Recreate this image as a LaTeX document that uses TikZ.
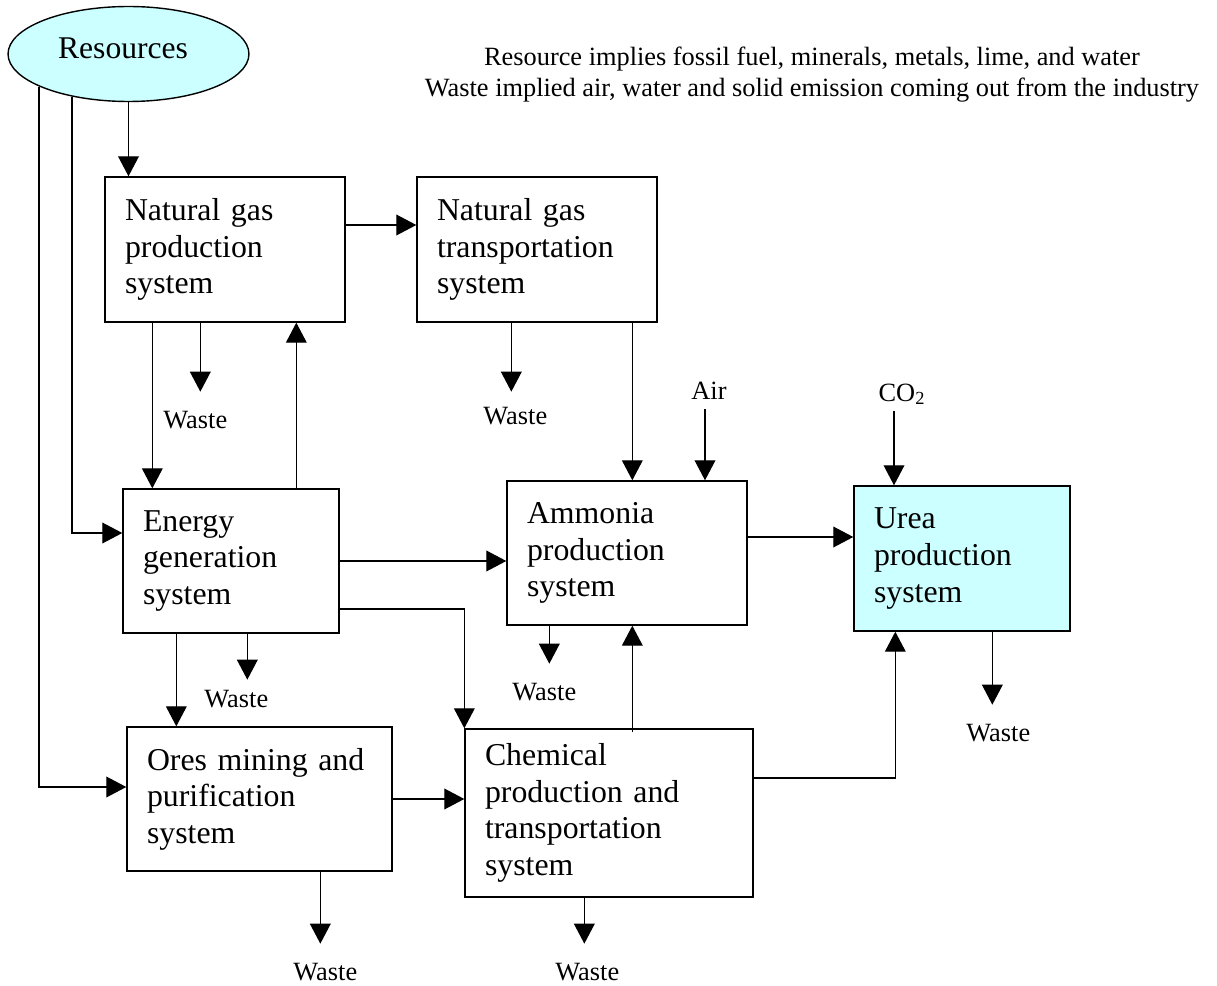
\documentclass[tikz,border=0pt]{standalone}
\usepackage{fontspec}
\setmainfont{Liberation Serif}
\usetikzlibrary{shapes.geometric,arrows.meta,calc}
\definecolor{lightcyan}{HTML}{CCFFFF}
\tikzset{
  sysbox/.style={draw, line width=0.8pt, rectangle, align=left, inner xsep=0.4cm, inner ysep=0pt,
    font=\fontsize{18.1}{20.8}\selectfont},
  lbl/.style={inner sep=0pt, font=\fontsize{15}{17.6}\selectfont},
  arr/.style={line width=0.75pt, -{Triangle[length=11.4pt,width=11.8pt]}},
}
\begin{document}
\begin{tikzpicture}[x=0.02cm, y=-0.02cm]
\useasboundingbox (0,0) rectangle (1217,986);

% resources ellipse
\node[ellipse, draw, line width=0.8pt, fill=lightcyan, minimum width=4.82cm, minimum height=1.9cm,
  inner sep=0pt, font=\fontsize{18}{21}\selectfont, text depth=6.2pt] (res) at (128.5,54) {\hspace*{-6.2pt}Resources};

% note
\node[lbl, align=center] (note) at (812,75) {Resource implies fossil fuel, minerals, metals, lime, and water\\Waste implied air, water and solid emission coming out from the industry};

% system boxes
\node[sysbox, minimum width=4.8cm, minimum height=2.9cm, text width=4.0cm] (ngp) at (225,249.5) {Natural gas\\production\\system};
\node[sysbox, minimum width=4.8cm, minimum height=2.9cm, text width=4.0cm] (ngt) at (537,249.5) {Natural gas\\transportation\\system};
\node[sysbox, minimum width=4.32cm, minimum height=2.88cm, text width=3.52cm] (en) at (231,561) {Energy\\generation\\system};
\node[sysbox, minimum width=4.8cm, minimum height=2.88cm, text width=4.0cm] (am) at (627,553) {Ammonia\\production\\system};
\node[sysbox, fill=lightcyan, minimum width=4.32cm, minimum height=2.9cm, text width=3.52cm] (ur) at (962,558.5) {Urea\\production\\system};
\node[sysbox, minimum width=5.3cm, minimum height=2.88cm, text width=4.5cm] (or) at (259.5,799) {Ores mining and\\purification\\system};
\node[sysbox, minimum width=5.76cm, minimum height=3.36cm, text width=4.96cm] (ch) at (609,813) {Chemical\\production and\\transportation\\system};

% input labels
\node[lbl, anchor=base] (air) at (709,399) {Air};
\node[lbl, anchor=base] (co2) at (902,401) {CO\textsubscript{2}};

% connectors from resources
\draw[arr] (res.south) -- (res.south |- ngp.north);
\draw[arr] (res.200.5) |- ($(or.west)+(0,-12)$);
\draw[arr] (res.217.2) |- ($(en.west)+(0,-28)$);

% natural gas production
\draw[arr] ($(ngp.east)+(0,-24.5)$) coordinate (t) -- (t -| ngt.west);
\draw[arr] ($(ngp.south west)+(48,0)$) coordinate (t) -- (t |- en.north);
\draw[arr] ($(ngp.south west)+(96,0)$) -- ++(0,69) coordinate (t1);
\node[lbl] (w1) at ($(t1)+(-5,28)$) {Waste};
\draw[arr] ($(en.north west)+(174,0)$) coordinate (t) -- (t |- ngp.south);

% natural gas transportation
\draw[arr] ($(ngt.south west)+(95,0)$) -- ++(0,69) coordinate (t2);
\node[lbl] (w2) at ($(t2)+(4,24)$) {Waste};
\draw[arr] ($(ngt.south west)+(216,0)$) coordinate (t) -- (t |- am.north);

% air and co2
\draw[arr] ($(air.base)+(-4,10)$) coordinate (t) -- (t |- am.north);
\draw[arr] ($(co2.base)+(-8,10)$) coordinate (t) -- (t |- ur.north);

% energy generation
\draw[arr] (en.east) coordinate (t) -- (t -| am.west);
\draw[arr] ($(en.east)+(0,48)$) -| (ch.north west);
\draw[arr] ($(en.south west)+(54,0)$) coordinate (t) -- (t |- or.north);
\draw[arr] ($(en.south west)+(125,0)$) -- ++(0,46) coordinate (t3);
\node[lbl] (w3) at ($(t3)+(-11,19)$) {Waste};

% ammonia
\draw[arr] ($(am.east)+(0,-16)$) coordinate (t) -- (t -| ur.west);
\draw[arr] ($(am.south west)+(43,0)$) -- ++(0,38) coordinate (t4);
\node[lbl] (w4) at ($(t4)+(-5,28)$) {Waste};

% urea
\draw[arr] ($(ur.south west)+(139,0)$) -- ++(0,73) coordinate (t5);
\node[lbl] (w5) at ($(t5)+(6,28)$) {Waste};

% chemical
\draw[arr] ($(ch.north west)+(168,4)$) coordinate (t) -- (t |- am.south);
\coordinate (urin) at ($(ur.south west)+(42,0)$);
\draw[arr] ($(ch.east)+(0,-35)$) -| (urin);
\draw[arr] ($(ch.south west)+(120,0)$) -- ++(0,46) coordinate (t7);
\node[lbl] (w7) at ($(t7)+(3,28)$) {Waste};

% ores
\draw[arr] (or.east) coordinate (t) -- (t -| ch.west);
\draw[arr] ($(or.south west)+(194,0)$) -- ++(0,72) coordinate (t6);
\node[lbl] (w6) at ($(t6)+(5,28)$) {Waste};
\end{tikzpicture}
\end{document}
